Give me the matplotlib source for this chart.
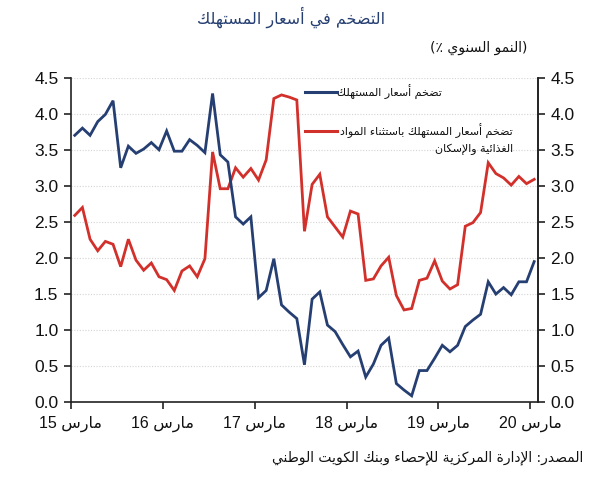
import matplotlib
matplotlib.use("Agg")
import matplotlib.pyplot as plt
from matplotlib.lines import Line2D
import numpy as np

# ---------------- data ----------------
cpi = [3.70, 3.80, 3.70, 3.89, 3.99, 4.18, 3.25, 3.55, 3.45, 3.51, 3.60, 3.50,
       3.76, 3.48, 3.48, 3.64, 3.56, 3.46, 4.28, 3.43, 3.33, 2.57, 2.47, 2.57,
       1.45, 1.55, 1.99, 1.35, 1.25, 1.16, 0.52, 1.43, 1.53, 1.07, 0.98, 0.80,
       0.63, 0.71, 0.35, 0.53, 0.79, 0.89, 0.26, 0.17, 0.09, 0.44, 0.44, 0.61,
       0.79, 0.70, 0.79, 1.05, 1.14, 1.22, 1.67, 1.50, 1.59, 1.49, 1.67, 1.67,
       1.95]
core = [2.59, 2.70, 2.26, 2.10, 2.23, 2.19, 1.88, 2.26, 1.97, 1.83, 1.93, 1.74,
        1.70, 1.55, 1.82, 1.89, 1.74, 1.99, 3.47, 2.96, 2.96, 3.25, 3.12, 3.24,
        3.08, 3.36, 4.21, 4.26, 4.23, 4.19, 2.37, 3.02, 3.16, 2.57, 2.43, 2.29,
        2.65, 2.61, 1.69, 1.71, 1.89, 2.01, 1.48, 1.28, 1.30, 1.69, 1.72, 1.96,
        1.68, 1.57, 1.63, 2.44, 2.49, 2.63, 3.32, 3.17, 3.11, 3.01, 3.13, 3.03,
        3.09]
year_labels = ["15", "16", "17", "18", "19", "20"]
month_word = "مارس"
y_ticks = [0.0, 0.5, 1.0, 1.5, 2.0, 2.5, 3.0, 3.5, 4.0, 4.5]

title_txt = "التضخم في أسعار المستهلك"
unit_txt = "النمو السنوي"
label_cpi = "تضخم أسعار المستهلك"
label_core_1 = "تضخم أسعار المستهلك باستثناء المواد"
label_core_2 = "الغذائية والإسكان"
source_txt = "المصدر: الإدارة المركزية للإحصاء وبنك الكويت الوطني"

# ---------------- minimal Arabic shaping + RTL ordering ----------------
_DUAL = {0x0626: 0xFE89, 0x0628: 0xFE8F, 0x062A: 0xFE95, 0x062B: 0xFE99,
         0x062C: 0xFE9D, 0x062D: 0xFEA1, 0x062E: 0xFEA5, 0x0633: 0xFEB1,
         0x0634: 0xFEB5, 0x0635: 0xFEB9, 0x0636: 0xFEBD, 0x0637: 0xFEC1,
         0x0638: 0xFEC5, 0x0639: 0xFEC9, 0x063A: 0xFECD, 0x0641: 0xFED1,
         0x0642: 0xFED5, 0x0643: 0xFED9, 0x0644: 0xFEDD, 0x0645: 0xFEE1,
         0x0646: 0xFEE5, 0x0647: 0xFEE9, 0x064A: 0xFEF1}
_RIGHT = {0x0622: 0xFE81, 0x0623: 0xFE83, 0x0624: 0xFE85, 0x0625: 0xFE87,
          0x0627: 0xFE8D, 0x0629: 0xFE93, 0x062F: 0xFEA9, 0x0630: 0xFEAB,
          0x0631: 0xFEAD, 0x0632: 0xFEAF, 0x0648: 0xFEED, 0x0649: 0xFEEF}
FORMS = {}
for k, b in _DUAL.items():
    FORMS[chr(k)] = (chr(b), chr(b + 1), chr(b + 2), chr(b + 3))
for k, b in _RIGHT.items():
    FORMS[chr(k)] = (chr(b), chr(b + 1), None, None)
FORMS["\u0621"] = ("\uFE80", None, None, None)
LAMALEF = {"\u0622": ("\uFEF5", "\uFEF6"), "\u0623": ("\uFEF7", "\uFEF8"),
           "\u0625": ("\uFEF9", "\uFEFA"), "\u0627": ("\uFEFB", "\uFEFC")}


def shape(s):
    units = []
    i = 0
    while i < len(s):
        c = s[i]
        if c == "\u0644" and i + 1 < len(s) and s[i + 1] in LAMALEF:
            units.append(("LA", s[i + 1]))
            i += 2
        else:
            units.append(("C", c))
            i += 1

    def jf(u):
        if u[0] == "LA":
            return False
        f = FORMS.get(u[1])
        return f is not None and f[2] is not None

    def jb(u):
        if u[0] == "LA":
            return True
        f = FORMS.get(u[1])
        return f is not None and f[1] is not None

    out = []
    for k, u in enumerate(units):
        prev = k > 0 and jf(units[k - 1]) and jb(u)
        nxt = k + 1 < len(units) and jf(u) and jb(units[k + 1])
        if u[0] == "LA":
            iso, fin = LAMALEF[u[1]]
            out.append(fin if prev else iso)
            continue
        f = FORMS.get(u[1])
        if f is None:
            out.append(u[1])
        elif prev and nxt:
            out.append(f[3])
        elif prev:
            out.append(f[1])
        elif nxt:
            out.append(f[2])
        else:
            out.append(f[0])
    return "".join(out)


def rtl(s):
    v = shape(s)[::-1]
    res, run = [], []
    for ch in v:
        if ch.isascii() and (ch.isalnum() or ch in ".%"):
            run.append(ch)
        else:
            if run:
                res.extend(run[::-1])
                run = []
            res.append(ch)
    if run:
        res.extend(run[::-1])
    mir = {"(": ")", ")": "("}
    return "".join(mir.get(c, c) for c in res)


# ---------------- figure ----------------
navy = "#263F72"
red = "#D2302B"
FONT = ["Liberation Sans", "DejaVu Sans"]
AR = ["DejaVu Sans"]
plt.rcParams["font.family"] = FONT

fig = plt.figure(figsize=(5.96, 5.0), dpi=100)
ax = fig.add_axes([0.119, 0.1954, 0.7837, 0.6494])

x = np.arange(len(cpi))
ax.plot(x, core, color=red, lw=2.0, solid_joinstyle="miter", zorder=3)
ax.plot(x, cpi, color=navy, lw=2.0, solid_joinstyle="miter", zorder=4)

ax.set_xlim(-0.5, 60.5)
ax.set_ylim(0, 4.5)
ax.set_yticks(y_ticks)
ax.set_yticklabels([f"{t:.1f}" for t in y_ticks], fontsize=12.5)
for t in y_ticks[1:]:
    ax.axhline(t, color="#d4d4d4", lw=0.8, ls=(0, (1, 1.5)), zorder=1)

xt = [12 * k - 0.5 for k in range(len(year_labels))]
ax.set_xticks(xt)
ax.set_xticklabels([y + " " + rtl(month_word) for y in year_labels],
                   fontsize=11.5, family=FONT)

ax.spines["top"].set_visible(False)
for s in ["left", "right", "bottom"]:
    ax.spines[s].set_linewidth(1.2)
    ax.spines[s].set_color("#222222")
ax.tick_params(axis="both", direction="out", length=5, width=1.2,
               color="#222222", labelcolor="#111111")
ax.tick_params(axis="y", pad=4)
ax.tick_params(axis="x", pad=5)

ax2 = ax.twinx()
ax2.set_ylim(0, 4.5)
ax2.set_yticks(y_ticks)
ax2.set_yticklabels([f"{t:.1f}" for t in y_ticks], fontsize=12.5)
for s in ["top", "left", "bottom"]:
    ax2.spines[s].set_visible(False)
ax2.spines["right"].set_linewidth(1.2)
ax2.spines["right"].set_color("#222222")
ax2.tick_params(axis="y", direction="out", length=5, width=1.2,
                color="#222222", labelcolor="#111111", pad=4)

W, H = 596.0, 500.0


def fx(px):
    return px / W


def fy(py):
    return 1 - py / H


# title / unit
fig.text(fx(291), fy(17), rtl(title_txt), ha="center", va="center",
         fontsize=11.5, color=navy, family=AR)
fig.text(fx(527), fy(48), "(٪ " + rtl(unit_txt) + ")", ha="right",
         va="center", fontsize=10, color="#111111", family=AR)

# legend (manual, right-to-left style)
fig.add_artist(Line2D([fx(305), fx(337)], [fy(92), fy(92)], color=navy,
                      lw=2.2, transform=fig.transFigure))
fig.text(fx(442), fy(92), rtl(label_cpi), ha="right", va="center",
         fontsize=8.0, color="#111111", family=AR)
fig.add_artist(Line2D([fx(305), fx(337)], [fy(131), fy(131)], color=red,
                      lw=2.2, transform=fig.transFigure))
fig.text(fx(513), fy(131), rtl(label_core_1), ha="right", va="center",
         fontsize=8.0, color="#111111", family=AR)
fig.text(fx(513), fy(149), rtl(label_core_2), ha="right", va="center",
         fontsize=8.0, color="#111111", family=AR)

# source
fig.text(fx(583), fy(458), rtl(source_txt), ha="right", va="center",
         fontsize=10, color="#111111", family=AR)

fig.savefig("out.png", dpi=100)
